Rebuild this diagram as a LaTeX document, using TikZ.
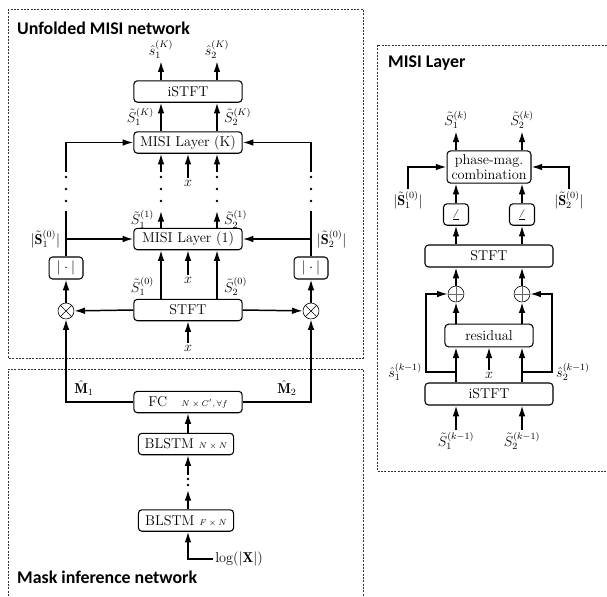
\documentclass[tikz,border=0pt]{standalone}
\usepackage{amsmath}
\usepackage{fontspec}
\newfontfamily\titlefont{Carlito}
\usetikzlibrary{arrows.meta,positioning}

\begin{document}
\begin{tikzpicture}[x=0.84pt, y=-0.84pt,
    every node/.style={font=\fontsize{12}{14}\selectfont},
    >={Latex[length=9pt,width=5.6pt]},
    arr/.style={->, line width=1.25pt},
    wire/.style={line width=1.25pt},
    panel/.style={dash pattern=on 1.6pt off 1.2pt, line width=0.5pt, black!80},
    ttl/.style={anchor=west, font=\titlefont\bfseries\fontsize{15}{18}\selectfont},
    blk/.style={draw, line width=0.9pt, rounded corners=3pt, minimum width=91pt, minimum height=18pt, inner sep=1pt},
    absbox/.style={blk, minimum width=28.5pt, minimum height=18.5pt},
    angbox/.style={blk, minimum width=21pt, minimum height=18pt},
    mulnode/.style={draw, circle, line width=0.5pt, minimum size=13.4pt, inner sep=0pt},
    lbl/.style={inner sep=1.5pt}
]
    \useasboundingbox (0,0) rectangle (607,596);

    % Panels
    \draw[panel] (8,9) rectangle (363,358);
    \draw[panel] (8,596) -- (8,369) -- (363,369) -- (363,596);
    \draw[panel] (607,45) -- (377,45) -- (377,471) -- (607,471);
    \node[ttl] (ttlU) at (13,28) {Unfolded MISI network};
    \node[ttl] (ttlM) at (13,577) {Mask inference network};
    \node[ttl] (ttlL) at (384,63) {MISI Layer};

    % Columns
    \coordinate (c1) at (161,0);
    \coordinate (c2) at (217,0);
    \coordinate (cm) at (188,0);
    \coordinate (lL) at (66,0);
    \coordinate (lR) at (311,0);
    \coordinate (dtop) at (0,172);
    \coordinate (dbot) at (0,211);

    % Unfolded MISI network blocks
    \node[blk] (istftU) at (188,91.5) {iSTFT};
    \node[blk] (misiK) at (188,142.5) {MISI Layer (K)};
    \node[blk] (misi1) at (188,239) {MISI Layer (1)};
    \node[blk] (stftU) at (188,310) {STFT};
    \node[absbox] (abs1) at (66,268) {$|\cdot|$};
    \node[absbox] (abs2) at (311,268) {$|\cdot|$};
    \node[mulnode] (mul1) at (66,311) {};
    \node[mulnode] (mul2) at (311,311) {};
    \foreach \m in {mul1,mul2} {
        \draw[line width=0.5pt] (\m.north east) -- (\m.south west);
        \draw[line width=0.5pt] (\m.north west) -- (\m.south east);
    }

    % Outputs
    \draw[arr] (istftU.north -| c1) -- ++(0,-19) node[above, lbl] (outs1) {$\hat{s}_1^{(K)}$};
    \draw[arr] (istftU.north -| c2) -- ++(0,-19) node[above, lbl] (outs2) {$\hat{s}_2^{(K)}$};
    \draw[arr] (misiK.north -| c1) -- (istftU.south -| c1) node[midway, left=2pt] {$\tilde{S}_1^{(K)}$};
    \draw[arr] (misiK.north -| c2) -- (istftU.south -| c2) node[midway, right=2pt] {$\tilde{S}_2^{(K)}$};

    % Into MISI Layer (K)
    \node[lbl] (xK) at (188,183) {$x$};
    \draw[arr] (xK) -- (misiK.south -| cm);
    \draw[arr] (c1 |- dtop) -- (misiK.south -| c1);
    \draw[arr] (c2 |- dtop) -- (misiK.south -| c2);
    \draw[arr] (lL |- dtop) |- (misiK.west);
    \draw[arr] (lR |- dtop) |- (misiK.east);
    \foreach \xx in {66,161,217,311}
        \foreach \yy in {177,189,201}
            \fill (\xx,\yy) circle (1.1pt);

    % MISI Layer (1)
    \draw[arr] (misi1.north -| c1) -- (c1 |- dbot) node[midway, left=2pt] {$\tilde{S}_1^{(1)}$};
    \draw[arr] (misi1.north -| c2) -- (c2 |- dbot) node[midway, right=2pt] {$\tilde{S}_2^{(1)}$};
    \draw[wire] (abs1) -- (lL |- dbot);
    \draw[wire] (abs2) -- (lR |- dbot);
    \draw[arr] (lL |- misi1) node[left=1pt] {$|\tilde{\mathbf{S}}_1^{(0)}|$} -- (misi1.west);
    \draw[arr] (lR |- misi1) node[right=1pt] {$|\tilde{\mathbf{S}}_2^{(0)}|$} -- (misi1.east);
    \node[lbl] (x1) at (188,280) {$x$};
    \draw[arr] (x1) -- (misi1.south -| cm);

    % STFT
    \draw[arr] (stftU.north -| c1) -- (misi1.south -| c1) node[pos=0.25, left=2pt] {$\tilde{S}_1^{(0)}$};
    \draw[arr] (stftU.north -| c2) -- (misi1.south -| c2) node[pos=0.25, right=2pt] {$\tilde{S}_2^{(0)}$};
    \draw[arr] (stftU.west) -- (mul1);
    \draw[arr] (stftU.east) -- (mul2);
    \draw[arr] (mul1) -- (abs1);
    \draw[arr] (mul2) -- (abs2);
    \node[lbl] (x0) at (188,348) {$x$};
    \draw[arr] (x0) -- (stftU.south);

    % Mask inference network
    \node[blk] (fc) at (188,402) {FC\hspace{12pt}{\scriptsize$N\times C',\forall f$}};
    \node[blk, minimum width=80pt] (blstmB) at (186,444) {BLSTM\hspace{4pt}{\scriptsize$N\times N$}};
    \node[blk, minimum width=80pt] (blstmA) at (186,520.5) {BLSTM\hspace{4pt}{\scriptsize$F\times N$}};
    \draw[arr] (fc.west) -| (mul1);
    \draw[arr] (fc.east) -| (mul2);
    \node (m1) at (84,388) {$\hat{\mathbf{M}}_1$};
    \node (m2) at (287,388) {$\hat{\mathbf{M}}_2$};
    \draw[arr] (blstmB.north -| cm) -- (fc.south -| cm);
    \coordinate (mtop) at (188,475);
    \coordinate (mbot) at (188,490);
    \draw[arr] (mtop) -- (blstmB.south -| cm);
    \draw[arr] (blstmA.north -| cm) -- (mbot);
    \fill (188,479) circle (1.1pt);
    \fill (188,485) circle (1.1pt);
    \node[lbl] (logx) at (239,559) {$\log(|\mathbf{X}|)$};
    \draw[arr] (logx.west) -| (blstmA.south -| cm);

    % MISI Layer detail
    \coordinate (r1) at (456,0);
    \coordinate (r2) at (522,0);
    \node[blk, align=center, minimum width=70.5pt, minimum height=27pt, inner sep=1.5pt,
          font=\fontsize{12}{12}\selectfont] (pmc) at (489,167) {phase-mag.\\combination};
    \node[angbox] (ang1) at (456,214.5) {$\angle$};
    \node[angbox] (ang2) at (522,214.5) {$\angle$};
    \node[blk, minimum width=107.5pt, minimum height=18.5pt] (stftR) at (489,256) {STFT};
    \node[mulnode] (add1) at (456,294) {};
    \node[mulnode] (add2) at (522,294) {};
    \foreach \m in {add1,add2} {
        \draw[line width=0.4pt, black!60] (\m.north) -- (\m.south);
        \draw[line width=0.4pt, black!60] (\m.west) -- (\m.east);
    }
    \node[blk, minimum width=74pt, minimum height=19pt] (resid) at (489,335.5) {residual};
    \node[blk, minimum width=107.5pt, minimum height=18.5pt] (istftR) at (489,394) {iSTFT};

    \draw[arr] (pmc.north -| r1) -- ++(0,-19) node[above, lbl] {$\tilde{S}_1^{(k)}$};
    \draw[arr] (pmc.north -| r2) -- ++(0,-19) node[above, lbl] {$\tilde{S}_2^{(k)}$};
    \node[lbl] (mag1) at (408,200) {$|\tilde{\mathbf{S}}_1^{(0)}|$};
    \node[lbl] (mag2) at (569,200) {$|\tilde{\mathbf{S}}_2^{(0)}|$};
    \draw[arr] (mag1.north) |- (pmc.west);
    \draw[arr] (mag2.north) |- (pmc.east);
    \draw[arr] (ang1) -- (pmc.south -| r1);
    \draw[arr] (ang2) -- (pmc.south -| r2);
    \draw[arr] (stftR.north -| r1) -- (ang1);
    \draw[arr] (stftR.north -| r2) -- (ang2);
    \draw[arr] (add1) -- (stftR.south -| r1);
    \draw[arr] (add2) -- (stftR.south -| r2);
    \draw[arr] (resid.north -| r1) -- (add1);
    \draw[arr] (resid.north -| r2) -- (add2);
    \draw[arr] (istftR.north -| r1) -- (resid.south -| r1);
    \draw[arr] (istftR.north -| r2) -- (resid.south -| r2);
    \node[lbl] (xr) at (489,375) {$x$};
    \draw[arr] (xr) -- (resid.south);

    % Skip connections
    \coordinate (sk1) at (456,372);
    \coordinate (sk2) at (522,372);
    \coordinate (skL) at (426,372);
    \coordinate (skR) at (552,372);
    \draw[arr] (sk1) -- (skL) |- (add1.west);
    \draw[arr] (sk2) -- (skR) |- (add2.east);
    \node[left=0pt] at (skL) {$\hat{s}_1^{(k-1)}$};
    \node[right=0pt] at (skR) {$\hat{s}_2^{(k-1)}$};

    % Inputs
    \node[lbl] (in1) at (456,441) {$\tilde{S}_1^{(k-1)}$};
    \node[lbl] (in2) at (522,441) {$\tilde{S}_2^{(k-1)}$};
    \draw[arr] (in1) -- (istftR.south -| r1);
    \draw[arr] (in2) -- (istftR.south -| r2);
\end{tikzpicture}
\end{document}
